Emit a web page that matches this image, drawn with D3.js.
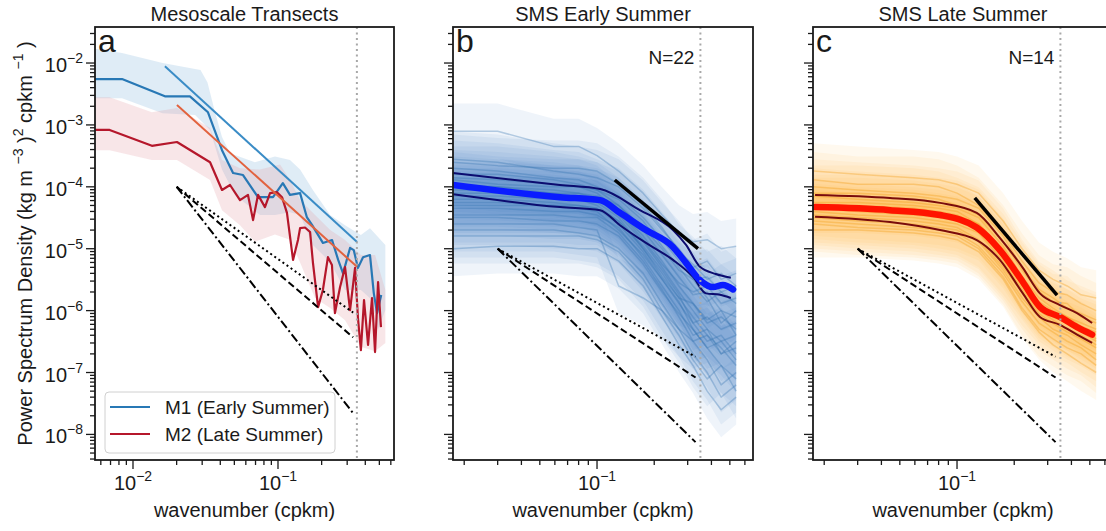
<!DOCTYPE html>
<html>
<head>
<meta charset="utf-8">
<script src="https://cdn.jsdelivr.net/npm/d3@7"></script>
<style>
  body { margin: 0; background: #fff; }
  svg text { font-family: "Liberation Sans", Arial, sans-serif; fill: #1a1a1a; }
</style>
</head>
<body>
<svg id="chart" width="1106" height="531"></svg>
<script>
// ---- data (wavenumber in cpkm, PSD in (kg m^-3)^2 cpkm^-1) ----

// panel a: mesoscale transects
const m1K = [0.005, 0.0084, 0.0166, 0.0247, 0.0329, 0.0411, 0.049, 0.0574, 0.0728, 0.0924, 0.108, 0.121, 0.142, 0.158, 0.172, 0.204, 0.236, 0.26, 0.281, 0.314, 0.333, 0.356, 0.386, 0.431, 0.458, 0.482, 0.515];
const m1Psd = [5.5e-3, 5.5e-3, 2.9e-3, 2.9e-3, 1.6e-3, 3.9e-4, 1.67e-4, 1.55e-4, 6.8e-5, 6.8e-5, 1.15e-4, 7.4e-5, 7.9e-5, 3.25e-5, 2.4e-5, 1.24e-5, 1.38e-5, 6.6e-6, 4.0e-6, 1.03e-5, 9.5e-6, 4.9e-6, 7.3e-6, 7.9e-6, 1.9e-6, 9.1e-7, 1.78e-6];
const m1HighK = [0.005, 0.0084, 0.016, 0.0292, 0.0326, 0.0368, 0.0411, 0.0467, 0.0693, 0.0953, 0.121, 0.142, 0.174, 0.229, 0.29, 0.373, 0.431, 0.55];
const m1High = [1.75e-2, 1.45e-2, 1.0e-2, 7.7e-3, 4.9e-3, 1.6e-3, 6.4e-4, 3.5e-4, 2.5e-4, 3.1e-4, 2.7e-4, 1.9e-4, 8.9e-5, 3.5e-5, 2.4e-5, 1.66e-5, 2.15e-5, 1.15e-5];
const m1LowK = [0.005, 0.0084, 0.016, 0.0268, 0.034, 0.0411, 0.0505, 0.0752, 0.0953, 0.121, 0.142, 0.174, 0.229, 0.29, 0.373, 0.445, 0.49, 0.55];
const m1Low = [2.7e-3, 2.7e-3, 1.55e-3, 1.44e-3, 8.3e-4, 1.9e-4, 7.4e-5, 3.5e-5, 3.5e-5, 3.9e-5, 3.5e-5, 1.15e-5, 6.1e-6, 2.15e-6, 2.15e-6, 1.48e-6, 4.9e-7, 1.02e-6];

const m2K = [0.005, 0.0069, 0.0135, 0.0201, 0.034, 0.0411, 0.0467, 0.0547, 0.0621, 0.0673, 0.0728, 0.0813, 0.0881, 0.0984, 0.1066, 0.1153, 0.127, 0.1375, 0.142, 0.1535, 0.1665, 0.174, 0.189, 0.204, 0.221, 0.2355, 0.247, 0.268, 0.29, 0.314, 0.34, 0.356, 0.373, 0.392, 0.418, 0.445, 0.467, 0.49, 0.513];
const m2Psd = [8.3e-4, 8.3e-4, 4.6e-4, 5.3e-4, 2.5e-4, 8.9e-5, 1.07e-4, 6.1e-5, 7.4e-5, 2.9e-5, 7.4e-5, 4.7e-5, 7.9e-5, 8.2e-5, 6.8e-5, 3.8e-5, 6.6e-6, 1.4e-5, 2.15e-5, 2.2e-5, 1.86e-5, 6.1e-6, 1.14e-6, 2.15e-6, 7.3e-6, 5.45e-6, 9.1e-7, 2.4e-6, 5.06e-6, 1.02e-6, 4.9e-6, 7.6e-7, 2.3e-7, 1.48e-6, 2.8e-7, 1.6e-6, 2.14e-7, 2.9e-6, 5.4e-7];
const m2HighK = [0.005, 0.0069, 0.0135, 0.0201, 0.034, 0.0411, 0.0547, 0.0752, 0.1033, 0.121, 0.142, 0.18, 0.229, 0.29, 0.373, 0.467, 0.55];
const m2High = [2.8e-3, 2.8e-3, 1.6e-3, 1.87e-3, 8.9e-4, 2.7e-4, 2.0e-4, 1.9e-4, 2.3e-4, 1.29e-4, 6.1e-5, 3.5e-5, 2.0e-5, 1.38e-5, 7.9e-6, 7.9e-6, 2.15e-6];
const m2LowK = [0.005, 0.0069, 0.0135, 0.0201, 0.034, 0.0411, 0.0547, 0.0693, 0.0953, 0.121, 0.142, 0.18, 0.229, 0.29, 0.373, 0.467, 0.55];
const m2Low = [3.9e-4, 3.9e-4, 2.7e-4, 2.7e-4, 1.29e-4, 4.2e-5, 2.4e-5, 1.3e-5, 1.7e-5, 1.4e-5, 6e-6, 1.6e-6, 1.1e-6, 7e-7, 2.6e-7, 2.2e-7, 3e-7];

const fitM1K = [0.0166, 0.351];
const fitM1Psd = [8.9e-3, 1.28e-5];
const fitM2K = [0.0201, 0.351];
const fitM2Psd = [2.1e-3, 5.1e-6];

// reference slopes k^-5/3, k^-2, k^-3
const refAK = [0.02, 0.33];
const refA53 = [1e-4, 9.3e-7];
const refA2 = [1e-4, 3.7e-7];
const refA3 = [1e-4, 2.2e-8];
const refBK = [0.03, 0.33];
const refB53 = [1e-5, 1.8e-7];
const refB2 = [1e-5, 8.3e-8];
const refB3 = [1e-5, 7.5e-9];

const nyquistK = 0.35;

// panels b, c: individual SMS spectra on a shared wavenumber grid
const spectraK = [0.0175, 0.03, 0.059, 0.08, 0.1, 0.13, 0.175, 0.22, 0.27, 0.32, 0.38, 0.45, 0.54];
const ciHigh = 2.8;
const ciLow = 0.36;

const earlySpectra = [
  [7.9e-4, 7.9e-4, 4.5e-4, 4.5e-4, 3.2e-4, 1.8e-4, 7.9e-5, 3.5e-5, 1.8e-5, 1.3e-5, 1.4e-5, 1e-5, 1.1e-5],
  [2.8e-4, 2.5e-4, 1.8e-4, 1.6e-4, 1.4e-4, 1e-4, 4.5e-5, 2e-5, 1e-5, 5e-6, 6.3e-6, 3.2e-6, 4e-6],
  [2.5e-4, 2.2e-4, 2e-4, 2e-4, 1.8e-4, 1.1e-4, 5e-5, 2.2e-5, 8.9e-6, 5.6e-6, 3.2e-6, 4e-6, 2.5e-6],
  [2e-4, 1.8e-4, 1.4e-4, 1.3e-4, 1e-4, 7.1e-5, 3.2e-5, 1.4e-5, 6.3e-6, 3.2e-6, 3.5e-6, 2e-6, 2.5e-6],
  [1.6e-4, 1.6e-4, 1.3e-4, 1.1e-4, 8.9e-5, 6.3e-5, 2.8e-5, 1.1e-5, 5e-6, 2.5e-6, 1.4e-6, 2e-6, 1.3e-6],
  [1.4e-4, 1.3e-4, 1.1e-4, 1e-4, 8.9e-5, 5e-5, 2e-5, 7.9e-6, 3.5e-6, 1.8e-6, 2e-6, 1e-6, 7.9e-7],
  [1.3e-4, 1.1e-4, 1e-4, 1e-4, 7.9e-5, 4e-5, 1.6e-5, 6.3e-6, 2.5e-6, 1.3e-6, 6.3e-7, 7.9e-7, 5e-7],
  [1.1e-4, 1e-4, 8.9e-5, 7.9e-5, 7.1e-5, 5e-5, 2.2e-5, 1e-5, 4.5e-6, 3.2e-6, 1.6e-6, 6.3e-7, 1e-6],
  [1e-4, 1e-4, 7.9e-5, 7.1e-5, 6.3e-5, 3.5e-5, 1.3e-5, 5e-6, 2e-6, 1e-6, 5e-7, 3.2e-7, 4e-7],
  [8.9e-5, 8.9e-5, 7.9e-5, 7.9e-5, 6.3e-5, 4e-5, 1.4e-5, 5.6e-6, 2.8e-6, 2e-6, 2.5e-6, 1.3e-6, 1.6e-6],
  [7.9e-5, 7.9e-5, 7.1e-5, 6.3e-5, 5.6e-5, 3.2e-5, 1e-5, 4e-6, 1.6e-6, 7.9e-7, 4e-7, 2.5e-7, 1.3e-7],
  [7.1e-5, 7.1e-5, 6.3e-5, 6.3e-5, 5e-5, 2.8e-5, 1.1e-5, 4.5e-6, 1.8e-6, 6.3e-7, 7.9e-7, 5e-7, 6.3e-7],
  [6.3e-5, 6.3e-5, 5.6e-5, 5e-5, 4.5e-5, 2.5e-5, 8.9e-6, 3.2e-6, 1.3e-6, 6.3e-7, 3.2e-7, 4e-7, 2e-7],
  [5.6e-5, 5.6e-5, 5e-5, 5e-5, 4.5e-5, 2.8e-5, 1e-5, 3.5e-6, 1.6e-6, 1.3e-6, 7.1e-7, 1e-6, 4e-7],
  [5e-5, 5e-5, 5e-5, 4.5e-5, 4e-5, 2e-5, 7.9e-6, 3.2e-6, 1.4e-6, 5e-7, 2.5e-7, 1.3e-7, 7.9e-8],
  [4.5e-5, 4.5e-5, 4e-5, 4e-5, 3.5e-5, 2.2e-5, 7.1e-6, 2.5e-6, 1e-6, 4e-7, 5e-7, 2e-7, 3.2e-7],
  [3.5e-5, 3.5e-5, 3.5e-5, 3.2e-5, 3.2e-5, 1.8e-5, 6.3e-6, 2.2e-6, 7.9e-7, 3.2e-7, 1.6e-7, 6.3e-8, 1e-7],
  [3.2e-5, 3.2e-5, 2.8e-5, 2.8e-5, 2.5e-5, 1.6e-5, 5.6e-6, 2e-6, 8.9e-7, 5e-7, 2.5e-7, 3.2e-7, 1.6e-7],
  [2.5e-5, 2.5e-5, 2.5e-5, 2.2e-5, 2e-5, 2.5e-6, 1.6e-6, 1e-6, 5e-7, 3.2e-7, 4e-7, 2e-7, 2.5e-7],
  [2e-5, 2e-5, 2e-5, 1.8e-5, 1.6e-5, 1e-5, 4e-6, 1.3e-6, 5e-7, 2e-7, 1e-7, 4e-8, 6.3e-8],
  [1.6e-5, 1.6e-5, 1.6e-5, 1.6e-5, 1.4e-5, 8.9e-6, 3.2e-6, 1e-6, 4e-7, 1.6e-7, 7.9e-8, 1.3e-7, 5e-8],
  [1e-5, 1.1e-5, 1.1e-5, 1e-5, 1e-5, 6.3e-6, 2.5e-6, 7.9e-7, 2.8e-7, 1.3e-7, 5e-8, 2.5e-8, 4e-8]
];

const lateSpectra = [
  [1.8e-4, 1.6e-4, 1.4e-4, 1.3e-4, 1.1e-4, 7.9e-5, 2.8e-5, 1e-5, 4.5e-6, 3.2e-6, 2.5e-6, 1.8e-6, 1.6e-6],
  [1.3e-4, 1.1e-4, 1.1e-4, 1e-4, 7.9e-5, 5e-5, 1.8e-5, 6.3e-6, 2.8e-6, 2e-6, 1.8e-6, 1.3e-6, 1e-6],
  [1e-4, 8.9e-5, 7.9e-5, 7.1e-5, 6.3e-5, 4.5e-5, 1.6e-5, 5e-6, 2.2e-6, 1.6e-6, 1.1e-6, 8.9e-7, 7.1e-7],
  [7.9e-5, 7.9e-5, 7.1e-5, 6.3e-5, 5e-5, 3.5e-5, 1.3e-5, 4.5e-6, 2e-6, 1.4e-6, 1.3e-6, 7.9e-7, 6.3e-7],
  [7.1e-5, 6.3e-5, 5.6e-5, 5e-5, 4.5e-5, 3.2e-5, 1.1e-5, 3.5e-6, 1.6e-6, 1.1e-6, 7.9e-7, 6.3e-7, 5e-7],
  [5.6e-5, 5.6e-5, 5e-5, 4.5e-5, 4e-5, 2.5e-5, 8.9e-6, 3.2e-6, 1.4e-6, 1e-6, 7.9e-7, 5.6e-7, 4.5e-7],
  [5e-5, 5e-5, 4.5e-5, 4e-5, 3.5e-5, 2.5e-5, 1e-5, 2.8e-6, 1.3e-6, 8.9e-7, 6.3e-7, 5e-7, 3.5e-7],
  [4.5e-5, 4e-5, 3.5e-5, 3.2e-5, 2.8e-5, 2e-5, 7.1e-6, 2.5e-6, 1.1e-6, 7.9e-7, 6.3e-7, 4.5e-7, 3.2e-7],
  [4e-5, 3.5e-5, 3.2e-5, 2.8e-5, 2.5e-5, 1.8e-5, 6.3e-6, 2.2e-6, 1e-6, 7.1e-7, 5e-7, 4e-7, 2.8e-7],
  [3.5e-5, 3.2e-5, 2.8e-5, 2.5e-5, 2.2e-5, 1.4e-5, 5e-6, 2e-6, 8.9e-7, 6.3e-7, 4.5e-7, 3.5e-7, 2.5e-7],
  [3.2e-5, 2.8e-5, 2.5e-5, 2.2e-5, 2e-5, 1.3e-5, 4.5e-6, 1.6e-6, 7.9e-7, 5e-7, 4e-7, 2.8e-7, 2e-7],
  [2.8e-5, 2.5e-5, 2.2e-5, 2e-5, 1.8e-5, 1.1e-5, 4e-6, 1.4e-6, 6.3e-7, 4.5e-7, 3.2e-7, 2.5e-7, 1.6e-7],
  [2.5e-5, 2.2e-5, 2e-5, 1.8e-5, 1.6e-5, 1e-5, 3.5e-6, 1.1e-6, 5e-7, 3.5e-7, 2.5e-7, 2e-7, 1.3e-7],
  [2e-5, 2e-5, 1.8e-5, 1.6e-5, 1.4e-5, 8.9e-6, 3.2e-6, 1e-6, 4.5e-7, 2.8e-7, 2e-7, 1.4e-7, 1e-7]
];

// ensemble means and their bounds
const meanBK = [0.0175, 0.0638, 0.1037, 0.132, 0.181, 0.251, 0.294, 0.348, 0.408, 0.46, 0.52];
const meanB = [1.07e-4, 6.8e-5, 6.1e-5, 3.8e-5, 2.0e-5, 1.07e-5, 5.9e-6, 3.1e-6, 2.4e-6, 2.6e-6, 2.2e-6];
const upperBK = [0.0175, 0.0638, 0.1037, 0.168, 0.251, 0.294, 0.348, 0.422, 0.506];
const upperB = [1.67e-4, 1.07e-4, 9.2e-5, 4.2e-5, 2.0e-5, 1.15e-5, 5.1e-6, 3.9e-6, 3.4e-6];
const lowerBK = [0.0175, 0.0638, 0.1037, 0.132, 0.181, 0.251, 0.32, 0.374, 0.444, 0.506];
const lowerB = [7.6e-5, 4.7e-5, 4.2e-5, 2.4e-5, 1.24e-5, 6.6e-6, 3.5e-6, 1.9e-6, 1.8e-6, 1.6e-6];

const meanCK = [0.0179, 0.0444, 0.0814, 0.127, 0.168, 0.222, 0.273, 0.348, 0.428, 0.514];
const meanC = [4.7e-5, 4.2e-5, 3.5e-5, 2.2e-5, 9.5e-6, 2.9e-6, 1.15e-6, 7.9e-7, 5.4e-7, 4.1e-7];
const upperC = [7.4e-5, 6.6e-5, 5.5e-5, 3.8e-5, 1.5e-5, 4.9e-6, 1.9e-6, 1.23e-6, 9.1e-7, 6.3e-7];
const lowerC = [3.3e-5, 2.7e-5, 2.0e-5, 1.38e-5, 6.6e-6, 1.9e-6, 7.9e-7, 5.9e-7, 4.1e-7, 3.0e-7];

const fitBK = [0.124, 0.34];
const fitBPsd = [1.29e-4, 1.0e-5];
const fitCK = [0.124, 0.336];
const fitCPsd = [6.6e-5, 1.78e-6];

// ---- layout ----
const plotTop = 27;
const plotBottom = 460;
const yDomain = [3.86e-9, 0.0382];
const yTickLabels = [-2, -3, -4, -5, -6, -7, -8];
const panelA = { left: 95, right: 394, xDomain: [0.00547, 0.631], title: "Mesoscale Transects", letter: "a", xLabels: [-2, -1] };
const panelB = { left: 453, right: 753, xDomain: [0.01746, 0.662], title: "SMS Early Summer", letter: "b", xLabels: [-1], count: "N=22" };
const panelC = { left: 813, right: 1113, xDomain: [0.01746, 0.662], title: "SMS Late Summer", letter: "c", xLabels: [-1], count: "N=14" };

const svg = d3.select("#chart");

function createScales(panel) {
  const x = d3.scaleLog().domain(panel.xDomain).range([panel.left, panel.right]);
  const y = d3.scaleLog().domain(yDomain).range([plotBottom, plotTop]);
  return { x, y };
}

function zip(ks, ps) {
  return ks.map((k, i) => [k, ps[i]]);
}

function drawLine(g, s, ks, ps, style, curve) {
  const line = d3.line().x((d) => s.x(d[0])).y((d) => s.y(d[1]));
  if (curve) line.curve(curve);
  g.append("path")
    .datum(zip(ks, ps))
    .attr("d", line)
    .attr("fill", "none")
    .attr("stroke", style.color)
    .attr("stroke-width", style.width)
    .attr("stroke-opacity", style.opacity || 1)
    .attr("stroke-dasharray", style.dash || null)
    .attr("stroke-linejoin", "round")
    .attr("stroke-linecap", style.cap || "butt");
}

function drawBand(g, s, highK, high, lowK, low, fill, opacity) {
  // polygon: upper edge left->right, lower edge right->left
  const pts = zip(highK, high).concat(zip(lowK, low).reverse());
  g.append("path")
    .attr("d", "M" + pts.map((d) => s.x(d[0]) + "," + s.y(d[1])).join("L") + "Z")
    .attr("fill", fill)
    .attr("fill-opacity", opacity)
    .attr("stroke", "none");
}

function drawEnsemble(g, s, spectra, style) {
  spectra.forEach((p) => {
    drawBand(g, s, spectraK, p.map((v) => v * ciHigh), spectraK, p.map((v) => v * ciLow), style.band, style.bandOpacity);
  });
  spectra.forEach((p) => {
    drawLine(g, s, spectraK, p, { color: style.line, width: 1.5, opacity: style.lineOpacity });
  });
}

function drawReferences(g, s, ks, r53, r2, r3) {
  drawLine(g, s, ks, r53, { color: "#000", width: 2, dash: "2,3" });
  drawLine(g, s, ks, r2, { color: "#000", width: 2, dash: "7,3.5" });
  drawLine(g, s, ks, r3, { color: "#000", width: 2, dash: "9,3,2,3" });
}

function drawNyquist(g, s) {
  g.append("line")
    .attr("x1", s.x(nyquistK)).attr("x2", s.x(nyquistK))
    .attr("y1", plotTop).attr("y2", plotBottom)
    .attr("stroke", "#a8a8a8")
    .attr("stroke-width", 2)
    .attr("stroke-dasharray", "2,3.5");
}

function powLabel(sel, exp) {
  sel.append("tspan").text("10");
  sel.append("tspan").attr("dy", -9).attr("font-size", 14).text("\u2212" + Math.abs(exp));
}

function isDecade(v) {
  const l = Math.log10(v);
  return Math.abs(l - Math.round(l)) < 1e-9;
}

function appendAxes(panel, s, withYLabels) {
  const g = svg.append("g");
  const ax = g.append("g").attr("stroke", "#1a1a1a").attr("stroke-width", 1.3);

  s.y.ticks().forEach((v) => {
    const len = isDecade(v) ? 9 : 5;
    ax.append("line")
      .attr("x1", panel.left - len).attr("x2", panel.left)
      .attr("y1", s.y(v)).attr("y2", s.y(v));
  });
  s.x.ticks().forEach((v) => {
    const len = isDecade(v) ? 9 : 5;
    ax.append("line")
      .attr("x1", s.x(v)).attr("x2", s.x(v))
      .attr("y1", plotBottom).attr("y2", plotBottom + len);
  });

  g.append("rect")
    .attr("x", panel.left).attr("y", plotTop)
    .attr("width", panel.right - panel.left)
    .attr("height", plotBottom - plotTop)
    .attr("fill", "none")
    .attr("stroke", "#1a1a1a")
    .attr("stroke-width", 1.8);

  if (withYLabels) {
    yTickLabels.forEach((e) => {
      const t = g.append("text")
        .attr("x", panel.left - 12)
        .attr("y", s.y(Math.pow(10, e)) + 9)
        .attr("text-anchor", "end")
        .attr("font-size", 20);
      powLabel(t, e);
    });
  }
  panel.xLabels.forEach((e) => {
    const t = g.append("text")
      .attr("x", s.x(Math.pow(10, e)))
      .attr("y", 490)
      .attr("text-anchor", "middle")
      .attr("font-size", 20);
    powLabel(t, e);
  });

  const cx = (panel.left + panel.right) / 2;
  g.append("text")
    .attr("x", cx).attr("y", 21)
    .attr("text-anchor", "middle")
    .attr("font-size", 20)
    .text(panel.title);
  g.append("text")
    .attr("x", cx).attr("y", 517)
    .attr("text-anchor", "middle")
    .attr("font-size", 20)
    .text("wavenumber (cpkm)");
  g.append("text")
    .attr("x", panel.left + 3).attr("y", 52)
    .attr("font-size", 32)
    .text(panel.letter);
  if (panel.count) {
    g.append("text")
      .attr("x", s.x(nyquistK) - 6).attr("y", 64)
      .attr("text-anchor", "end")
      .attr("font-size", 19)
      .text(panel.count);
  }
}

function plotGroup(panel, id) {
  svg.append("clipPath").attr("id", id)
    .append("rect")
    .attr("x", panel.left).attr("y", plotTop)
    .attr("width", panel.right - panel.left)
    .attr("height", plotBottom - plotTop);
  return svg.append("g").attr("clip-path", `url(#${id})`);
}

function drawPanelA() {
  const s = createScales(panelA);
  const g = plotGroup(panelA, "clip-a");
  drawBand(g, s, m1HighK, m1High, m1LowK, m1Low, "#7fb2dd", 0.25);
  drawBand(g, s, m2HighK, m2High, m2LowK, m2Low, "#e39aa5", 0.25);
  drawLine(g, s, m1K, m1Psd, { color: "#2878b5", width: 2.2 });
  drawLine(g, s, m2K, m2Psd, { color: "#b5172b", width: 2.2 });
  drawLine(g, s, fitM1K, fitM1Psd, { color: "#3a8cc6", width: 2 });
  drawLine(g, s, fitM2K, fitM2Psd, { color: "#e2623e", width: 2 });
  drawReferences(g, s, refAK, refA53, refA2, refA3);
  drawNyquist(g, s);
  appendAxes(panelA, s, true);

  // legend
  const lg = svg.append("g");
  lg.append("rect")
    .attr("x", 105).attr("y", 392).attr("width", 230).attr("height", 61)
    .attr("rx", 4)
    .attr("fill", "#fff").attr("fill-opacity", 0.85)
    .attr("stroke", "#d0d0d0");
  const entries = [
    { label: "M1 (Early Summer)", color: "#2878b5" },
    { label: "M2 (Late Summer)", color: "#b5172b" },
  ];
  entries.forEach((e, i) => {
    const yy = 407 + i * 27;
    lg.append("line")
      .attr("x1", 110).attr("x2", 150).attr("y1", yy).attr("y2", yy)
      .attr("stroke", e.color).attr("stroke-width", 2.2);
    lg.append("text")
      .attr("x", 165).attr("y", yy + 7)
      .attr("font-size", 19)
      .text(e.label);
  });
}

function drawPanelB() {
  const s = createScales(panelB);
  const g = plotGroup(panelB, "clip-b");
  drawEnsemble(g, s, earlySpectra, { band: "#4485c6", bandOpacity: 0.085, line: "#2f6fae", lineOpacity: 0.32 });
  drawLine(g, s, upperBK, upperB, { color: "#0c0c70", width: 2 }, d3.curveMonotoneX);
  drawLine(g, s, lowerBK, lowerB, { color: "#0c0c70", width: 2 }, d3.curveMonotoneX);
  drawLine(g, s, meanBK, meanB, { color: "#0a1cff", width: 6.5, cap: "round" }, d3.curveMonotoneX);
  drawLine(g, s, fitBK, fitBPsd, { color: "#000", width: 3.5 });
  drawReferences(g, s, refBK, refB53, refB2, refB3);
  drawNyquist(g, s);
  appendAxes(panelB, s, false);
}

function drawPanelC() {
  const s = createScales(panelC);
  const g = plotGroup(panelC, "clip-c");
  drawEnsemble(g, s, lateSpectra, { band: "#ffab2e", bandOpacity: 0.075, line: "#f29c12", lineOpacity: 0.35 });
  drawLine(g, s, meanCK, upperC, { color: "#7a0c0c", width: 2 }, d3.curveMonotoneX);
  drawLine(g, s, meanCK, lowerC, { color: "#7a0c0c", width: 2 }, d3.curveMonotoneX);
  drawLine(g, s, meanCK, meanC, { color: "#ff1400", width: 6.5, cap: "round" }, d3.curveMonotoneX);
  drawLine(g, s, fitCK, fitCPsd, { color: "#000", width: 3.5 });
  drawReferences(g, s, refBK, refB53, refB2, refB3);
  drawNyquist(g, s);
  appendAxes(panelC, s, false);
}

function appendYLabel() {
  const t = svg.append("text")
    .attr("transform", `translate(32, ${(plotTop + plotBottom) / 2}) rotate(-90)`)
    .attr("text-anchor", "middle")
    .attr("font-size", 20);
  t.append("tspan").text("Power Spectrum Density (kg m ");
  t.append("tspan").attr("dy", -9).attr("font-size", 14).text("\u22123");
  t.append("tspan").attr("dy", 9).text(" )");
  t.append("tspan").attr("dy", -9).attr("font-size", 14).text("2");
  t.append("tspan").attr("dy", 9).text(" cpkm ");
  t.append("tspan").attr("dy", -9).attr("font-size", 14).text("\u22121");
  t.append("tspan").attr("dy", 9).text("  )");
}

drawPanelA();
drawPanelB();
drawPanelC();
appendYLabel();
</script>
</body>
</html>
